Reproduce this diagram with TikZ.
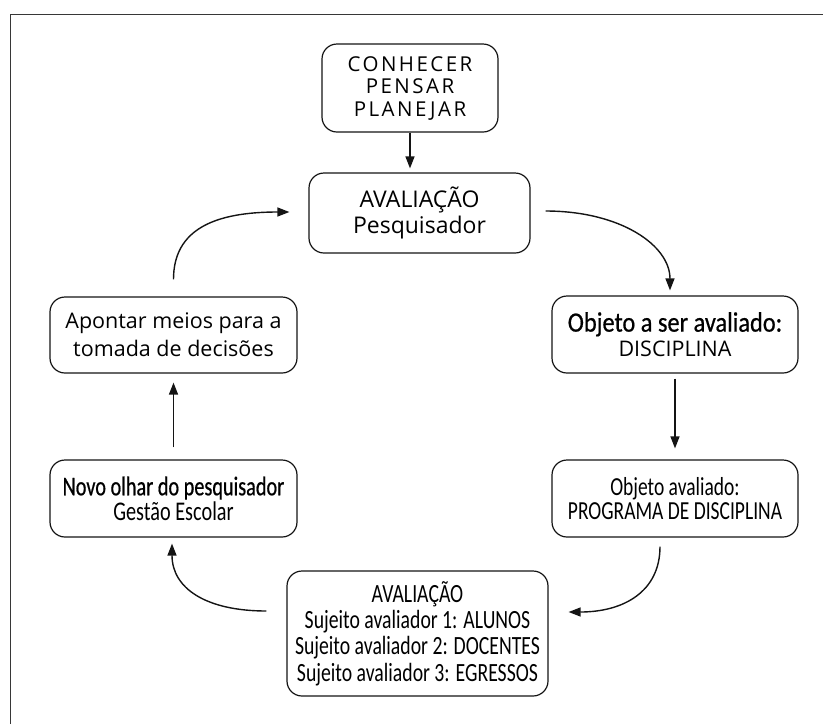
\documentclass[tikz,border=0pt]{standalone}
\usepackage{fontspec}
\setmainfont{Carlito}
\newfontfamily\osans{Open Sans}
\newfontfamily\osansls[LetterSpace=12]{Open Sans}
\newfontfamily\estreita[FakeStretch=0.75]{Carlito}
\newfontfamily\estreitaf[FakeStretch=0.75,FakeBold=0.6]{Carlito}
\newfontfamily\largaf[FakeStretch=0.87,FakeBold=0.6]{Carlito}
\usetikzlibrary{arrows.meta}
\definecolor{CLN}{RGB}{20,20,20}
\definecolor{CFRM}{RGB}{55,55,55}
\tikzset{
  caixa/.style={draw=CLN,line width=1.2pt,rounded corners=15pt,align=center,inner sep=0pt},
  seta/.style={CLN,line width=1.4pt,-{Triangle[length=12pt,width=9pt]}},
}

\begin{document}
\begin{tikzpicture}[x=1pt,y=-1pt,font=\estreita\fontsize{26.3}{26.3}\selectfont]
  \useasboundingbox (0,0) rectangle (823,724);
  % — moldura
  \draw[CFRM,line width=1pt] (10,724) -- (10,14) -- (823,14);
  % — caixas
  \node[caixa,minimum width=176pt,minimum height=88pt,font=\osansls\fontsize{20.5}{22.5}\selectfont] (plan) at (410,88) {CONHECER\\PENSAR\\PLANEJAR};
  \node[caixa,minimum width=221pt,minimum height=80pt,font=\osans\fontsize{23}{26}\selectfont] (aval) at (419.5,213) {AVALIAÇÃO\\Pesquisador};
  \node[caixa,minimum width=246pt,minimum height=77pt,font=\fontsize{28}{25}\selectfont] (objser) at (675,334.5) {{\largaf Objeto a ser avaliado:}\\{\osans\fontsize{21.5}{25}\selectfont DISCIPLINA}};
  \node[caixa,minimum width=246pt,minimum height=77pt,font=\estreita\fontsize{26}{24.5}\selectfont] (objok) at (675,498.5) {Objeto avaliado:\\PROGRAMA DE DISCIPLINA};
  \node[caixa,minimum width=261pt,minimum height=125pt] (sujeito) at (417.5,633.5) {AVALIAÇÃO\\Sujeito avaliador 1: ALUNOS\\Sujeito avaliador 2: DOCENTES\\Sujeito avaliador 3: EGRESSOS};
  \node[caixa,minimum width=247pt,minimum height=77pt,font=\estreita\fontsize{27}{25}\selectfont] (novo) at (173.5,498.5) {{\estreitaf Novo olhar do pesquisador}\\Gestão Escolar};
  \node[caixa,minimum width=247pt,minimum height=76pt,font=\osans\fontsize{21.5}{28}\selectfont] (apontar) at (173.5,335) {Apontar meios para a\\tomada de decisões};
  % — setas
  \draw[seta,shorten >=4pt] (plan.south) -- (plan.south |- aval.north);
  \draw[seta,shorten >=5pt] ([xshift=15pt,yshift=2pt]aval.east) .. controls +(75,0) and +(0,-50) .. ([xshift=-5pt]objser.north);
  \draw[seta,shorten <=5pt,shorten >=11pt] (objser.south) -- (objok.north);
  \draw[seta] ([xshift=-15pt,yshift=-9pt]objok.south) .. controls +(0,45) and +(55,0) .. ([xshift=20pt,yshift=21.5pt]sujeito.east);
  \draw[seta] ([xshift=-20pt,yshift=22.5pt]sujeito.west) .. controls +(-60,0) and +(0,45) .. ([xshift=-1.5pt,yshift=-6pt]novo.south);
  \draw[seta,shorten <=12pt,shorten >=9pt] (novo.north) -- (apontar.south);
  \draw[seta] ([yshift=17pt]apontar.north) .. controls +(0,-50) and +(-75,0) .. ([xshift=-19pt,yshift=1pt]aval.west);
\end{tikzpicture}
\end{document}
